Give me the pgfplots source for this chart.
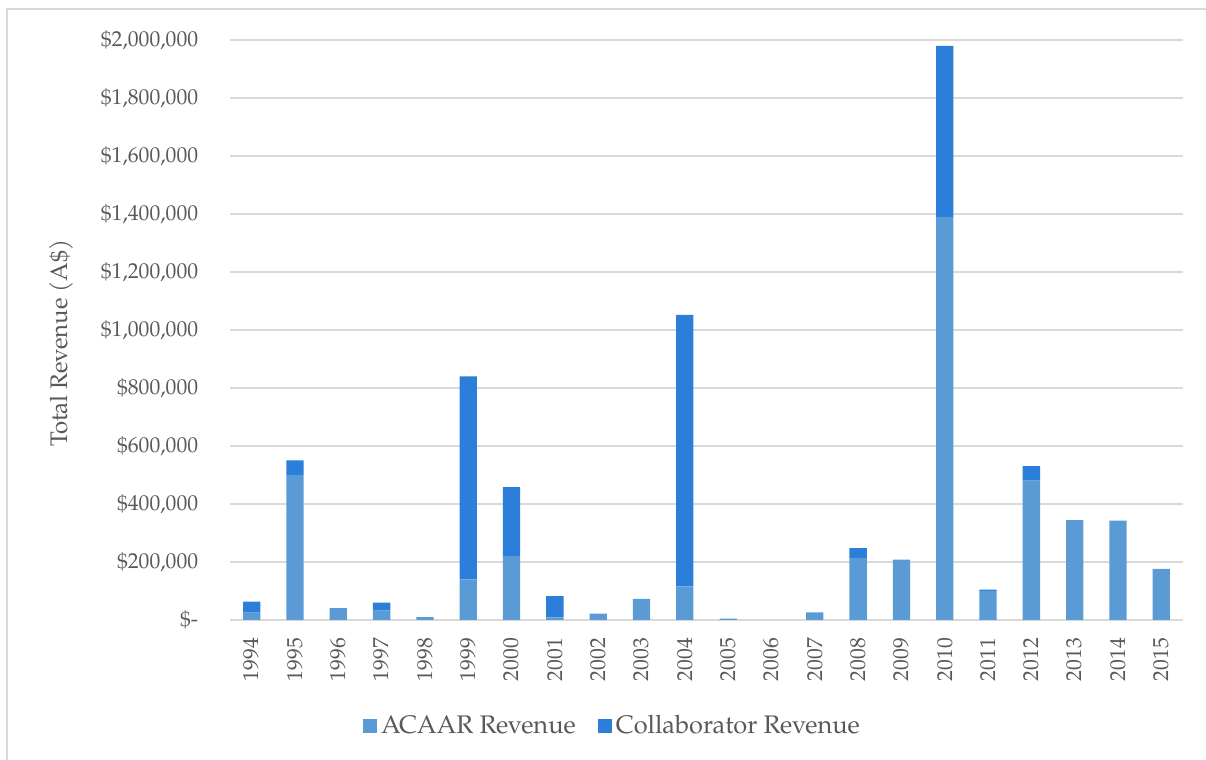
\documentclass[border=0pt]{standalone}
\usepackage{pgfplots}
\pgfplotsset{compat=1.18}
\usepackage{pgfplotstable}
\usepackage{fontspec}
\setmainfont{TeX Gyre Pagella}
\definecolor{acaar}{HTML}{5B9BD5}
\definecolor{collab}{HTML}{2B7FD9}
\definecolor{gridgray}{HTML}{D9D9D9}
\definecolor{txtgray}{HTML}{595959}

% Annual revenue (A$), split by source
\pgfplotstableread{
idx year acaar  collab
0  1994 25000   38000
1  1995 500000  50000
2  1996 41000   0
3  1997 32000   28000
4  1998 10000   0
5  1999 140000  700000
6  2000 220000  238000
7  2001 9000    73000
8  2002 22000   0
9  2003 73000   0
10 2004 116000  936000
11 2005 5000    0
12 2006 0       0
13 2007 26000   0
14 2008 214000  34000
15 2009 208000  0
16 2010 1389000 591000
17 2011 100000  5000
18 2012 481000  50000
19 2013 344000  0
20 2014 343000  0
21 2015 176000  0
}\revenue

\begin{document}
\begin{tikzpicture}
\begin{axis}[
  at={(0pt,0pt)}, anchor=south west,
  scale only axis, width=476.5pt, height=290pt,
  ybar stacked, bar width=8.65pt,
  xmin=-0.5, xmax=21.5, ymin=0, ymax=2000000,
  xtick={0,...,21},
  xticklabels={1994,1995,1996,1997,1998,1999,2000,2001,2002,2003,2004,2005,2006,2007,2008,2009,2010,2011,2012,2013,2014,2015},
  ytick={0,200000,400000,600000,800000,1000000,1200000,1400000,1600000,1800000,2000000},
  yticklabels={{\$-\hspace{0.5em}},{\$200,000},{\$400,000},{\$600,000},{\$800,000},{\$1,000,000},{\$1,200,000},{\$1,400,000},{\$1,600,000},{\$1,800,000},{\$2,000,000}},
  scaled y ticks=false,
  major tick length=0pt,
  ticklabel style={font=\fontsize{10.8}{12}\selectfont, text=txtgray},
  xticklabel style={rotate=90, anchor=east},
  xticklabel shift=5.5pt,
  yticklabel shift=12.4pt,
  ymajorgrids, grid style={gridgray, line width=0.75pt},
  axis lines*=left,
  y axis line style={draw=none},
  x axis line style={gridgray, line width=0.9pt},
  ylabel={Total Revenue (A\$)},
  ylabel style={at={(axis description cs:0,0.477)}, anchor=center, yshift=84pt,
    font=\fontsize{12}{14}\selectfont, text=txtgray},
  legend style={at={(axis description cs:0.4024,-0.1828)}, anchor=center,
    draw=none, legend columns=2, font=\fontsize{12.7}{14}\selectfont, text=txtgray,
    /tikz/every even column/.append style={column sep=9pt}},
]
\addplot[fill=acaar, draw=none,
  legend image code/.code={\fill[acaar] (0pt,-3.5pt) rectangle (7pt,3.5pt);}]
  table[x=idx, y=acaar]{\revenue};
\addplot[fill=collab, draw=none,
  legend image code/.code={\fill[collab] (0pt,-3.5pt) rectangle (7pt,3.5pt);}]
  table[x=idx, y=collab]{\revenue};
\legend{ACAAR Revenue, Collaborator Revenue}
\end{axis}
\pgfresetboundingbox
\path[use as bounding box] (-115pt,-70pt) rectangle (488pt,310pt);
\draw[gridgray, line width=1pt] (-111.25pt,-70pt) -- (-111.25pt,305.25pt) -- (488pt,305.25pt);
\end{tikzpicture}
\end{document}
